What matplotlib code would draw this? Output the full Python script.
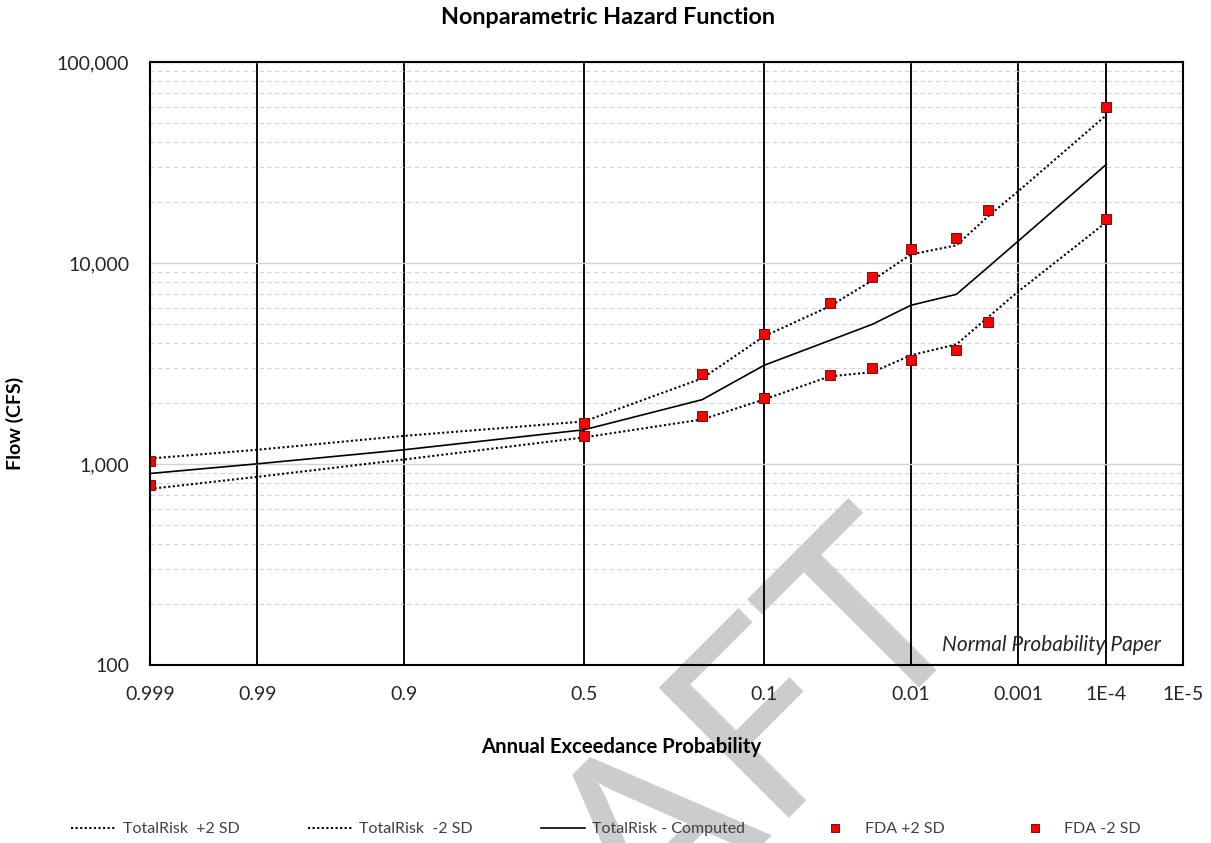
import numpy as np
import matplotlib
matplotlib.use('Agg')
from matplotlib import pyplot as plt
from matplotlib.lines import Line2D
from matplotlib.ticker import FixedLocator, NullLocator, LogLocator, NullFormatter
from statistics import NormalDist

# annual exceedance probabilities of the TotalRisk curves
line_aep = [0.999, 0.99, 0.9, 0.5, 0.2, 0.1, 0.04, 0.02, 0.01, 0.004, 0.002, 0.001, 1e-4]
totalrisk_plus2 = [1065, 1177, 1380, 1628, 2667, 4315, 6095, 8204, 11020, 12250, 17100, 22700, 54400]
totalrisk_minus2 = [752, 863, 1053, 1356, 1666, 2094, 2729, 2864, 3471, 3939, 5380, 7200, 15960]
totalrisk_computed = [897, 1002, 1177, 1480, 2090, 3096, 4120, 4957, 6159, 6987, 9550, 12830, 30940]

# FDA points
fda_aep = [0.999, 0.5, 0.2, 0.1, 0.04, 0.02, 0.01, 0.004, 0.002, 1e-4]
fda_plus2 = [1030, 1605, 2790, 4430, 6320, 8520, 11800, 13330, 18380, 59700]
fda_minus2 = [784, 1376, 1738, 2127, 2760, 3000, 3280, 3706, 5086, 16460]

x_ticks = [0.999, 0.99, 0.9, 0.5, 0.1, 0.01, 0.001, 1e-4, 1e-5]
x_labels = ['0.999', '0.99', '0.9', '0.5', '0.1', '0.01', '0.001', '1E-4', '1E-5']
y_ticks = [100, 1000, 10000, 100000]
y_labels = ['100', '1,000', '10,000', '100,000']

FONT = ['Lato', 'DejaVu Sans']
W, H = 1211, 843

_nd = NormalDist()


def prob_to_z(p):
    p = np.clip(np.asarray(p, dtype=float), 1e-12, 1 - 1e-12)
    return np.vectorize(lambda q: _nd.inv_cdf(1.0 - q), otypes=[float])(p)


def z_to_prob(z):
    z = np.asarray(z, dtype=float)
    return np.vectorize(lambda v: 1.0 - _nd.cdf(v), otypes=[float])(z)


def fx(px):
    return px / W


def fy(py):
    return 1 - py / H


plt.rcParams['font.family'] = FONT

fig = plt.figure(figsize=(W / 100, H / 100), dpi=100)
ax = fig.add_axes([fx(150), fy(665), fx(1183) - fx(150), fy(62) - fy(665)])
ax.patch.set_visible(False)

ax.set_xscale('function', functions=(prob_to_z, z_to_prob))
ax.set_yscale('log')
ax.set_xlim(1e-5, 0.999)
if ax.xaxis_inverted():
    ax.invert_xaxis()
ax.set_ylim(100, 100000)

ax.xaxis.set_major_locator(FixedLocator(x_ticks))
ax.set_xticklabels(x_labels)
ax.xaxis.set_minor_locator(NullLocator())
ax.yaxis.set_major_locator(FixedLocator(y_ticks))
ax.set_yticklabels(y_labels)
ax.yaxis.set_minor_locator(LogLocator(base=10, subs=range(2, 10)))
ax.yaxis.set_minor_formatter(NullFormatter())

ax.tick_params(which='both', length=0)
ax.tick_params(axis='x', pad=15, labelsize=14, labelcolor='#262626')
ax.tick_params(axis='y', pad=15, labelsize=14, labelcolor='#262626')

ax.set_axisbelow(True)
ax.grid(axis='y', which='minor', color='#d4d4d4', ls=(0, (4, 3)), lw=0.8)
ax.grid(axis='y', which='major', color='#d4d4d4', lw=1.0)
ax.grid(axis='x', which='major', color='black', lw=1.35)
for s in ax.spines.values():
    s.set_color('black')
    s.set_linewidth(1.5)

dotted = (0, (1, 1.2))
ax.plot(line_aep, totalrisk_plus2, color='black', lw=1.5, ls=dotted, dash_capstyle='butt')
ax.plot(line_aep, totalrisk_minus2, color='black', lw=1.5, ls=dotted, dash_capstyle='butt')
ax.plot(line_aep, totalrisk_computed, color='black', lw=1.2)
ax.plot(fda_aep, fda_plus2, ls='none', marker='s', ms=6.6, mfc='#ff0000', mec='#600000', mew=0.6)
ax.plot(fda_aep, fda_minus2, ls='none', marker='s', ms=6.6, mfc='#ff0000', mec='#600000', mew=0.6)

ax.text((1161 - 150) / 1033, (665 - 645) / 603, 'Normal Probability Paper', transform=ax.transAxes,
        ha='right', va='center', fontsize=15, style='italic', color='#262626')

fig.text(fx(608), fy(17), 'Nonparametric Hazard Function', ha='center', va='center',
         fontsize=16.8, fontweight='bold', color='black')
fig.text(fx(621), fy(747), 'Annual Exceedance Probability', ha='center', va='center',
         fontsize=14.6, fontweight='bold', color='black')
fig.text(fx(15), fy(423), 'Flow (CFS)', ha='center', va='center', rotation=90,
         fontsize=14, fontweight='bold', color='black')

# watermark behind the plot
fig.text(fx(975), fy(608), 'DRAFT', rotation=45, rotation_mode='anchor', ha='right', va='baseline',
         fontsize=184, color='#cccccc', zorder=-1)

handles = [
    Line2D([], [], color='black', lw=1.5, ls=dotted, dash_capstyle='butt'),
    Line2D([], [], color='black', lw=1.5, ls=dotted, dash_capstyle='butt'),
    Line2D([], [], color='black', lw=1.2),
    Line2D([], [], ls='none', marker='s', ms=6, mfc='#ff0000', mec='#600000', mew=0.6),
    Line2D([], [], ls='none', marker='s', ms=6, mfc='#ff0000', mec='#600000', mew=0.6),
]
labels = ['TotalRisk  +2 SD', 'TotalRisk  -2 SD', 'TotalRisk - Computed', 'FDA +2 SD', 'FDA -2 SD']
leg_fs = 11.5
fs_px = leg_fs * 100 / 72
leg = fig.legend(handles, labels, loc='center', bbox_to_anchor=(fx(606), fy(829)), ncol=5,
                 frameon=False, fontsize=leg_fs, handlelength=44 / fs_px, handletextpad=7.5 / fs_px,
                 columnspacing=68 / fs_px, borderpad=0, borderaxespad=0)
for t in leg.get_texts():
    t.set_color('#404040')

fig.savefig('out.png', dpi=100)
